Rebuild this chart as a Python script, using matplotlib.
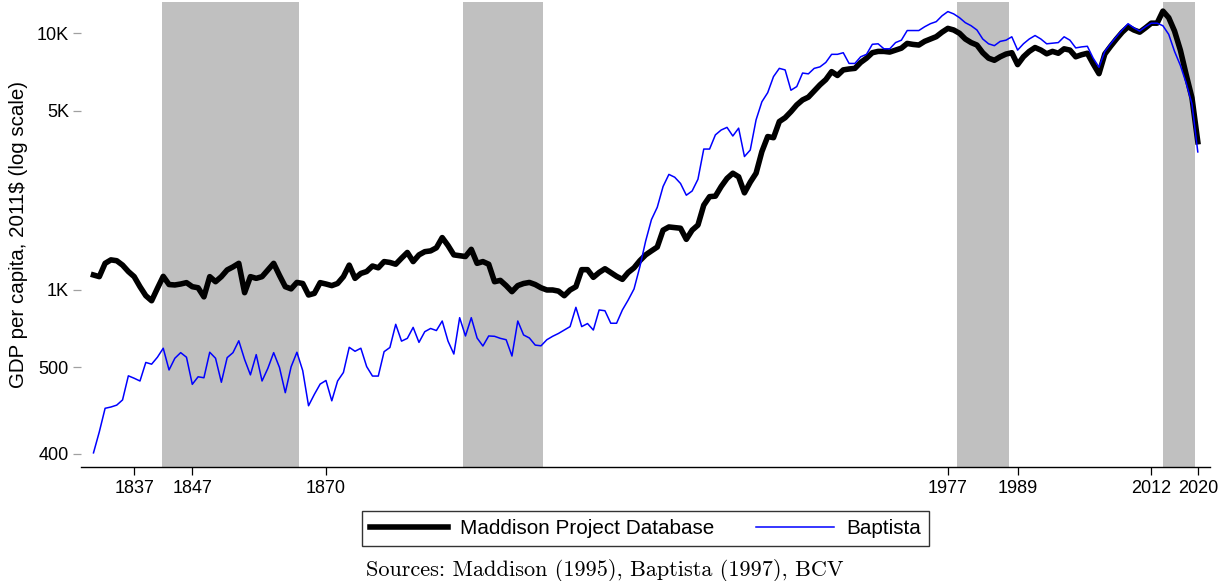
import numpy as np
import matplotlib
matplotlib.use('Agg')
import matplotlib.pyplot as plt
from matplotlib.ticker import FixedLocator, NullLocator

plt.rcParams['font.family'] = ['Liberation Sans', 'DejaVu Sans']

# ---------------------------------------------------------------
# Data (GDP per capita, 2011$), annual 1830-2020
# ---------------------------------------------------------------
years = list(range(1830, 2021))

maddison = [
    1144, 1127, 1270, 1310, 1300, 1250, 1180, 1127, 1030, 950,            # 1830-1839
    908, 1015, 1130, 1050, 1046, 1055, 1068, 1030, 1020, 940,             # 1840-1849
    1127, 1077, 1127, 1197, 1230, 1270, 976, 1127, 1110, 1127,            # 1850-1859
    1197, 1270, 1140, 1030, 1010, 1070, 1060, 956, 970, 1068,             # 1860-1869
    1055, 1040, 1060, 1127, 1250, 1110, 1160, 1180, 1240, 1220,           # 1870-1879
    1290, 1280, 1260, 1330, 1400, 1290, 1370, 1410, 1420, 1460,           # 1880-1889
    1600, 1490, 1370, 1360, 1350, 1440, 1270, 1290, 1260, 1077,           # 1890-1899
    1090, 1040, 985, 1040, 1060, 1070, 1050, 1020, 1000, 1000,            # 1900-1909
    990, 950, 1000, 1030, 1200, 1200, 1120, 1170, 1210, 1170,             # 1910-1919
    1130, 1100, 1170, 1220, 1300, 1370, 1420, 1470, 1710, 1760,           # 1920-1929
    1750, 1740, 1575, 1710, 1790, 2140, 2310, 2320, 2530, 2720,           # 1930-1939
    2850, 2760, 2390, 2630, 2850, 3460, 3960, 3920, 4530, 4690,           # 1940-1949
    4950, 5260, 5500, 5640, 5960, 6300, 6600, 7090, 6850, 7200,           # 1950-1959
    7260, 7300, 7700, 8000, 8400, 8500, 8500, 8450, 8600, 8750,           # 1960-1969
    9130, 9050, 9000, 9300, 9500, 9700, 10100, 10450, 10300, 10000,       # 1970-1979
    9500, 9200, 9000, 8400, 8000, 7850, 8100, 8300, 8400, 7550,           # 1980-1989
    8100, 8500, 8800, 8600, 8320, 8500, 8360, 8700, 8600, 8100,           # 1990-1999
    8250, 8360, 7600, 6960, 8300, 8900, 9500, 10100, 10600, 10300,        # 2000-2009
    10100, 10500, 10950, 10950, 12200, 11500, 10200, 8600, 6900, 5600,    # 2010-2019
    3780,                                                                 # 2020
]

baptista = [
    232, 280, 346, 350, 356, 373, 463, 453, 442, 522,                     # 1830-1839
    514, 547, 593, 488, 542, 570, 547, 429, 459, 455,                     # 1840-1849
    572, 542, 437, 545, 570, 634, 536, 467, 560, 442,                     # 1850-1859
    495, 570, 499, 398, 502, 572, 485, 354, 392, 430,                     # 1860-1869
    444, 370, 442, 477, 598, 577, 593, 503, 462, 462,                     # 1870-1879
    575, 597, 735, 632, 648, 715, 625, 688, 708, 695,                     # 1880-1889
    757, 632, 563, 780, 662, 780, 650, 605, 662, 660,                     # 1890-1899
    648, 640, 553, 757, 668, 650, 610, 606, 640, 660,                     # 1900-1909
    677, 698, 720, 856, 720, 740, 698, 836, 830, 742,                     # 1910-1919
    742, 836, 914, 1009, 1230, 1550, 1880, 2100, 2530, 2820,              # 1920-1929
    2750, 2600, 2340, 2430, 2700, 3540, 3540, 4020, 4200, 4300,           # 1930-1939
    3980, 4270, 3310, 3510, 4600, 5410, 5870, 6780, 7300, 7200,           # 1940-1949
    6000, 6200, 7000, 6950, 7300, 7400, 7700, 8280, 8280, 8400,           # 1950-1959
    7630, 7630, 8100, 8280, 9060, 9100, 8700, 8700, 9200, 9400,           # 1960-1969
    10250, 10250, 10250, 10600, 10900, 11100, 11700, 12150, 11900, 11500, # 1970-1979
    11000, 10700, 10300, 9500, 9100, 8950, 9300, 9400, 9690, 8600,        # 1980-1989
    9100, 9500, 9800, 9500, 9100, 9150, 9200, 9690, 9400, 8770,           # 1990-1999
    8850, 8900, 8000, 7370, 8500, 9100, 9700, 10300, 10900, 10500,        # 2000-2009
    10200, 10600, 10950, 10950, 10700, 9900, 8500, 7500, 6400, 5300,      # 2010-2019
    3450,                                                                 # 2020
]

# shaded periods
shade_start = [1841.8, 1893.5, 1978.5, 2014.0]
shade_end = [1865.3, 1907.4, 1987.6, 2019.5]

xticks = [1837, 1847, 1870, 1977, 1989, 2012, 2020]
ytick_vals = [229.7, 500, 1000, 5000, 10000]
ytick_labels = ['400', '500', '1K', '5K', '10K']

# ---------------------------------------------------------------
W, H = 1221, 581
fig = plt.figure(figsize=(W / 100, H / 100), dpi=100)
fig.patch.set_facecolor('white')

x0, x1, y0, y1 = 80.7, 1210, 2, 466.7
ax = fig.add_axes([x0 / W, 1 - y1 / H, (x1 - x0) / W, (y1 - y0) / H])

for s, e in zip(shade_start, shade_end):
    ax.axvspan(s, e, color='#c0c0c0', lw=0, zorder=0)

ax.plot(years, maddison, color='black', lw=4.0, zorder=3,
        label='Maddison Project Database')
ax.plot(years, baptista, color='#0000ff', lw=1.1, zorder=4,
        label='Baptista')

ax.set_yscale('log')
ax.set_xlim(1827.8, 2022.1)
ax.set_ylim(204.9, 13240)

ax.yaxis.set_major_locator(FixedLocator(ytick_vals))
ax.yaxis.set_minor_locator(NullLocator())
ax.set_yticklabels(ytick_labels)
ax.set_xticks(xticks)
ax.set_xticklabels([str(x) for x in xticks])

for side in ['left', 'top', 'right']:
    ax.spines[side].set_visible(False)
ax.spines['bottom'].set_linewidth(1.0)

ax.tick_params(axis='y', length=5.5, width=0.9, color='#a0a0a0',
               labelsize=13, pad=3)
ax.tick_params(axis='x', length=5.5, width=0.9, color='black',
               labelsize=13, pad=4)

ax.set_ylabel('GDP per capita, 2011$ (log scale)', fontsize=14.8, labelpad=6)

leg = fig.legend(loc='center', bbox_to_anchor=(645.5 / W, 1 - 528.7 / H),
                 ncol=2, fontsize=14.9, frameon=True, fancybox=False,
                 handlelength=3.77, handletextpad=0.58, columnspacing=2.0,
                 borderpad=0.4, edgecolor='black')
leg.get_frame().set_linewidth(1.0)

fig.text(605 / W, 1 - 570 / H, 'Sources: Maddison (1995), Baptista (1997), BCV',
         family=['cmr10', 'DejaVu Serif'], fontsize=16, ha='center', va='center')

fig.savefig('out.png', dpi=100, facecolor='white')
